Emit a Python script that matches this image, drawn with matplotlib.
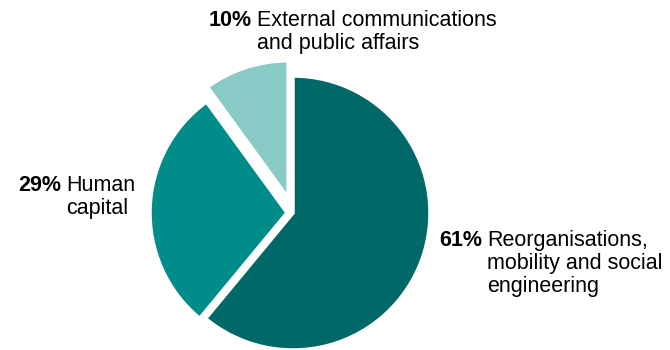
import matplotlib.pyplot as plt

# Share of spending by category (clockwise from 12 o'clock)
categories = [['Reorganisations,', 'mobility and social', 'engineering'],
              ['Human', 'capital'],
              ['External communications', 'and public affairs']]
shares = [61, 29, 10]
colors = ['#006866', '#008C89', '#88CAC6']
explode = [0, 6, 16]  # pie() offsets wedges by this many data units (pixels here)

plt.rcParams['font.family'] = ['Liberation Sans', 'DejaVu Sans']

W, H = 670, 350
fig = plt.figure(figsize=(W / 100, H / 100), dpi=100)
ax = fig.add_axes([0, 0, 1, 1])

# pie centre / radius in pixel space (y measured from the top)
cx, cy, r = 293, 213, 137
ax.pie(shares, colors=colors, startangle=90, counterclock=False,
       explode=explode, center=(cx, H - cy), radius=r,
       wedgeprops=dict(edgecolor='white', linewidth=2.5))
ax.set_xlim(0, W)
ax.set_ylim(0, H)
ax.set_aspect('equal')
ax.axis('off')

fs = 15.5
line_gap = 23
# (right edge of percent, baseline of first line), pixels from top-left
label_pos = [(482, 246), (61, 191), (252, 26)]
for share, lines, (x, y) in zip(shares, categories, label_pos):
    ax.text(x, H - y, f'{share}%', ha='right', va='baseline',
            fontsize=fs, fontweight='bold')
    for i, line in enumerate(lines):
        ax.text(x + 5, H - y - i * line_gap, line, ha='left', va='baseline',
                fontsize=fs)

fig.savefig('out.png', dpi=100)
